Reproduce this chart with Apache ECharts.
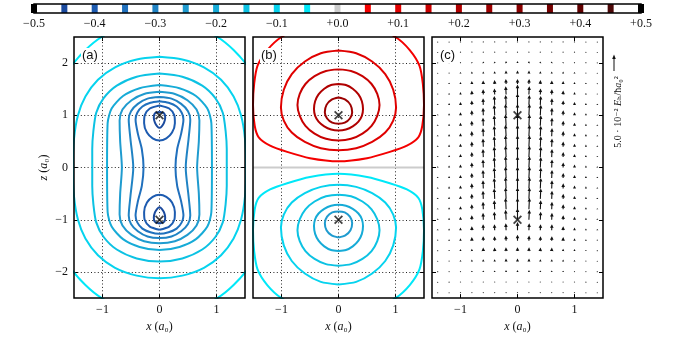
<!DOCTYPE html>
<html>
<head>
<meta charset="utf-8">
<script src="https://cdn.jsdelivr.net/npm/echarts@6/dist/echarts.min.js"></script>
<style>
  html, body { margin: 0; padding: 0; background: #fff; }
  #main { width: 675px; height: 338px; }
</style>
</head>
<body>
<div id="main"></div>
<script>
// colour levels (colorbar)
var levels = [-0.45, -0.40, -0.35, -0.30, -0.25, -0.20, -0.15, -0.10, -0.05, 0.00,
              0.05, 0.10, 0.15, 0.20, 0.25, 0.30, 0.35, 0.40, 0.45];
var levelColors = ['#1b4a9e', '#1d5bb0', '#2070bd', '#2083c4', '#1f9bcf', '#16abd7', '#0cc2e3', '#06d3ee', '#00e8f8', '#cccccc',
                   '#f40000', '#e00000', '#c80000', '#b00000', '#9c0000', '#880000', '#740000', '#600000', '#4c0808'];

var xTicks = [-1, 0, 1];
var zTicks = [-2, -1, 0, 1, 2];
var nuclei = [[0, 1], [0, -1]];

// panel (a): one quarter (x>=0, z>=0) of each closed contour, from the top to the side
var contourA_levels = [-0.05, -0.10, -0.15, -0.20, -0.25, -0.30, -0.35];
var contourA_quarters = [
  [[0, 2.85], [0.5, 2.77], [1.0, 2.51], [1.3, 2.25], [1.6, 1.87], [1.8, 1.51], [2.0, 0.94], [2.12, 0]],
  [[0, 2.12], [0.4, 2.07], [0.78, 1.92], [1.08, 1.68], [1.3, 1.36], [1.43, 1.0], [1.5, 0.55], [1.52, 0]],
  [[0, 1.80], [0.4, 1.74], [0.75, 1.57], [0.98, 1.33], [1.11, 1.05], [1.16, 0.7], [1.18, 0.35], [1.18, 0]],
  [[0, 1.58], [0.35, 1.52], [0.64, 1.37], [0.84, 1.13], [0.91, 0.85], [0.92, 0]],
  [[0, 1.45], [0.27, 1.41], [0.49, 1.29], [0.65, 1.11], [0.70, 0.9], [0.69, 0.5], [0.66, 0]],
  [[0, 1.35], [0.21, 1.32], [0.38, 1.22], [0.50, 1.08], [0.54, 0.92], [0.51, 0.55], [0.46, 0]],
  [[0, 1.27], [0.16, 1.24], [0.30, 1.17], [0.39, 1.05], [0.42, 0.92], [0.38, 0.65], [0.31, 0.35], [0.28, 0]]
];
// panel (a): loops round the upper nucleus, right half from top to bottom
var contourA_loopLevels = [-0.40, -0.45];
var contourA_loops = [
  [[0, 1.19], [0.17, 1.13], [0.26, 1.0], [0.27, 0.85], [0.22, 0.67], [0.12, 0.56], [0, 0.52]],
  [[0, 1.07], [0.08, 1.04], [0.1, 0.96], [0.08, 0.86], [0.04, 0.79], [0, 0.76]]
];

// panel (b): positive contours round the upper nucleus, right half from top to bottom
var contourB_levels = [0.05, 0.10, 0.15, 0.20, 0.25];
var contourB_halves = [
  [[0, 2.78], [0.6, 2.7], [1.0, 2.5], [1.25, 2.25], [1.42, 1.95], [1.48, 1.6], [1.5, 1.2], [1.47, 0.8], [1.4, 0.58], [1.2, 0.42], [0.9, 0.3], [0.5, 0.18], [0, 0.12]],
  [[0, 2.24], [0.31, 2.19], [0.59, 2.03], [0.82, 1.79], [0.96, 1.49], [1.01, 1.15], [0.96, 0.9], [0.82, 0.67], [0.59, 0.49], [0.31, 0.37], [0, 0.33]],
  [[0, 1.88], [0.22, 1.85], [0.42, 1.75], [0.58, 1.6], [0.68, 1.41], [0.72, 1.2], [0.68, 0.99], [0.58, 0.8], [0.42, 0.65], [0.22, 0.55], [0, 0.52]],
  [[0, 1.60], [0.13, 1.58], [0.25, 1.51], [0.35, 1.4], [0.41, 1.27], [0.43, 1.12], [0.41, 0.99], [0.35, 0.88], [0.25, 0.79], [0.13, 0.73], [0, 0.71]],
  [[0, 1.34], [0.12, 1.3], [0.21, 1.2], [0.24, 1.06], [0.2, 0.94], [0.11, 0.86], [0, 0.84]]
];
var zeroContour = [[-1.5, 0], [1.5, 0]];

// panel (c): field arrows, magnitude in 1e-2 Eh/(hbar a0^2), columns x = 0..1.4, rows z = 2.4..-2.4
var quiverX = [0, 0.2, 0.4, 0.6, 0.8, 1.0, 1.2, 1.4];
var quiverZ = [2.4, 2.2, 2.0, 1.8, 1.6, 1.4, 1.2, 1.0, 0.8, 0.6, 0.4, 0.2, 0, -0.2, -0.4, -0.6, -0.8, -1.0, -1.2, -1.4, -1.6, -1.8, -2.0, -2.2, -2.4];
var quiverMag = [
  [0.2, 0.3, 0.7, 1.0, 1.7, 3.3, 3.8, 3.8, 3.8, 3.8, 3.8, 3.8, 3.8, 3.8, 3.8, 3.8, 3.8, 3.8, 2.7, 2.0, 1.3, 1.0, 0.7, 0.3, 0.2],
  [0.2, 0.3, 0.7, 1.0, 1.7, 2.7, 3.3, 3.8, 3.8, 3.8, 3.8, 3.8, 3.8, 3.8, 3.8, 3.8, 3.8, 3.3, 2.3, 1.7, 1.3, 1.0, 0.7, 0.3, 0.2],
  [0.2, 0.3, 0.5, 0.8, 1.3, 2.0, 3.0, 3.5, 3.5, 3.5, 3.5, 3.5, 3.5, 3.5, 3.5, 3.5, 3.0, 2.7, 2.0, 1.5, 1.2, 0.8, 0.5, 0.3, 0.2],
  [0.2, 0.3, 0.5, 0.7, 1.2, 1.7, 2.2, 2.5, 2.7, 2.7, 2.7, 2.7, 2.7, 2.7, 2.7, 2.7, 2.5, 2.3, 2.0, 1.5, 1.2, 0.8, 0.5, 0.3, 0.2],
  [0.2, 0.3, 0.4, 0.7, 1.0, 1.3, 1.5, 1.7, 1.7, 1.7, 1.7, 1.7, 1.7, 1.7, 1.7, 1.7, 1.7, 1.5, 1.3, 1.2, 0.8, 0.7, 0.4, 0.3, 0.2],
  [0.2, 0.3, 0.3, 0.5, 0.7, 0.8, 1.0, 1.0, 1.0, 1.0, 1.0, 1.0, 1.0, 1.0, 1.0, 1.0, 1.0, 1.0, 0.9, 0.8, 0.7, 0.5, 0.3, 0.3, 0.2],
  [0.1, 0.2, 0.3, 0.3, 0.4, 0.5, 0.6, 0.7, 0.7, 0.7, 0.7, 0.7, 0.7, 0.7, 0.7, 0.7, 0.7, 0.7, 0.6, 0.5, 0.4, 0.3, 0.3, 0.2, 0.1],
  [0.1, 0.1, 0.2, 0.2, 0.3, 0.3, 0.4, 0.4, 0.4, 0.4, 0.4, 0.4, 0.4, 0.4, 0.4, 0.4, 0.4, 0.4, 0.4, 0.3, 0.3, 0.2, 0.2, 0.1, 0.1]
];
// outward lean of the arrows per column (x component / z component)
var quiverTilt = [0, 0.05, 0.05, 0.04, 0.03, 0.02, 0.02, 0.01];
var QUIVER_PX = 3; // pixels per 1e-2 unit (key arrow 5.0e-2 = 15px)

var SERIF = "'Liberation Serif', 'DejaVu Serif', serif";

function colorOf(l) {
  for (var i = 0; i < levels.length; i++) {
    if (Math.abs(levels[i] - l) < 1e-9) return levelColors[i];
  }
  return '#000';
}

function closeQuarter(q) {
  var pts = [];
  q.forEach(function (p) { pts.push([p[0], p[1]]); });
  q.slice(0, -1).reverse().forEach(function (p) { pts.push([p[0], -p[1]]); });
  q.slice(1).forEach(function (p) { pts.push([-p[0], -p[1]]); });
  q.slice(0, -1).reverse().forEach(function (p) { pts.push([-p[0], p[1]]); });
  return pts;
}
function closeHalf(h, zs) {
  var pts = [];
  h.forEach(function (p) { pts.push([p[0], zs * p[1]]); });
  h.slice(0, -1).reverse().forEach(function (p) { pts.push([-p[0], zs * p[1]]); });
  return pts;
}
function tickFmt(v) {
  return v < 0 ? '\u2212' + Math.abs(v) : String(v);
}

var chart = echarts.init(document.getElementById('main'), null, { renderer: 'canvas' });

var panels = [
  { left: 74, labels: true, grid: true },
  { left: 253, labels: false, grid: true },
  { left: 432, labels: false, grid: false }
];
var grids = [{ left: 34, top: 4, width: 607, height: 9, show: true, borderColor: '#000', borderWidth: 1.5, z: 5 }];
var xAxes = [{
  gridIndex: 0, type: 'value', min: -0.5, max: 0.5, interval: 0.1,
  axisLine: { show: false, onZero: false }, splitLine: { show: false },
  axisTick: { inside: true, length: 3, lineStyle: { color: '#000' } },
  axisLabel: {
    margin: 5, fontFamily: SERIF, fontSize: 12, color: '#111',
    formatter: function (v) { var r = Math.round(v * 10) / 10; return (r < 0 ? '\u2212' : '+') + Math.abs(r).toFixed(1); }
  }
}];
var yAxes = [{ gridIndex: 0, type: 'value', min: 0, max: 1, show: false }];

var xName = '{i|x} ({i|a}\u2080)';
var nameRich = { i: { fontStyle: 'italic', fontFamily: SERIF, fontSize: 12, color: '#111' } };

panels.forEach(function (p, k) {
  var gi = k + 1;
  grids.push({ left: p.left, top: 37, width: 171, height: 264, show: true, borderColor: '#000', borderWidth: 1.5, z: 5 });
  var tick = { inside: true, length: 4, lineStyle: { color: '#000', width: 1 } };
  var noLine = { show: false, onZero: false };
  xAxes.push({
    gridIndex: gi, type: 'value', min: -1.5, max: 1.5, position: 'bottom',
    axisLine: noLine, splitLine: { show: false },
    axisTick: Object.assign({ customValues: xTicks }, tick),
    axisLabel: { customValues: xTicks, formatter: tickFmt, margin: 6, fontFamily: SERIF, fontSize: 12, color: '#111' },
    name: xName, nameLocation: 'middle', nameGap: 22,
    nameTextStyle: { fontFamily: SERIF, fontSize: 12, color: '#111', rich: nameRich }
  });
  xAxes.push({
    gridIndex: gi, type: 'value', min: -1.5, max: 1.5, position: 'top',
    axisLine: noLine, splitLine: { show: false },
    axisTick: Object.assign({ customValues: xTicks }, tick),
    axisLabel: { show: false }
  });
  var yl = {
    gridIndex: gi, type: 'value', min: -2.5, max: 2.5, position: 'left',
    axisLine: noLine, splitLine: { show: false },
    axisTick: Object.assign({ customValues: zTicks }, tick),
    axisLabel: { show: p.labels, customValues: zTicks, formatter: tickFmt, margin: 6, fontFamily: SERIF, fontSize: 12, color: '#111' }
  };
  if (p.labels) {
    yl.name = '{i|z} ({i|a}\u2080)';
    yl.nameLocation = 'middle';
    yl.nameGap = 24;
    yl.nameRotate = 90;
    yl.nameTextStyle = { fontFamily: SERIF, fontSize: 12, color: '#111', rich: nameRich };
  }
  yAxes.push(yl);
  yAxes.push({
    gridIndex: gi, type: 'value', min: -2.5, max: 2.5, position: 'right',
    axisLine: noLine, splitLine: { show: false },
    axisTick: Object.assign({ customValues: zTicks }, tick),
    axisLabel: { show: false }
  });
});

var series = [];

// colorbar
var cbarData = levels.map(function (l, i) {
  return { value: [l, 1], itemStyle: { color: levelColors[i] } };
});
cbarData.push({ value: [-0.5, 1], itemStyle: { color: '#000' } });
cbarData.push({ value: [0.5, 1], itemStyle: { color: '#000' } });
series.push({
  type: 'bar', xAxisIndex: 0, yAxisIndex: 0, barWidth: 6, data: cbarData,
  clip: true, silent: true, animation: false
});

function contourSeries(axisIdx, pts, color) {
  return {
    type: 'line', xAxisIndex: axisIdx, yAxisIndex: axisIdx, data: pts,
    showSymbol: false, smooth: 0.25, clip: true, silent: true, animation: false, z: 3,
    lineStyle: { color: color, width: 2 }
  };
}

// grid lines (dotted) for panels a and b, plus nuclei markers for all panels
[1, 2, 3].forEach(function (gi, k) {
  var ml = [];
  if (panels[k].grid) {
    xTicks.forEach(function (v) { ml.push({ xAxis: v }); });
    zTicks.forEach(function (v) { ml.push({ yAxis: v }); });
  }
  series.push({
    type: 'scatter', xAxisIndex: gi * 2 - 1, yAxisIndex: gi * 2 - 1, data: nuclei,
    symbol: 'path://M0,1.4L1.4,0L5,3.6L8.6,0L10,1.4L6.4,5L10,8.6L8.6,10L5,6.4L1.4,10L0,8.6L3.6,5Z',
    symbolSize: 9, itemStyle: { color: '#111' }, z: 6, silent: true, animation: false,
    markLine: {
      silent: true, symbol: 'none', label: { show: false }, animation: false, z: 1,
      lineStyle: { color: '#222', width: 1, type: [1, 2.4] },
      data: ml
    }
  });
});

// panel (a)
contourA_levels.forEach(function (l, i) {
  series.push(contourSeries(1, closeQuarter(contourA_quarters[i]), colorOf(l)));
});
contourA_loopLevels.forEach(function (l, i) {
  series.push(contourSeries(1, closeHalf(contourA_loops[i], 1), colorOf(l)));
  series.push(contourSeries(1, closeHalf(contourA_loops[i], -1), colorOf(l)));
});

// panel (b)
series.push(Object.assign(contourSeries(3, zeroContour, colorOf(0)), { smooth: false }));
contourB_levels.forEach(function (l, i) {
  series.push(contourSeries(3, closeHalf(contourB_halves[i], 1), colorOf(l)));
  series.push(contourSeries(3, closeHalf(contourB_halves[i], -1), colorOf(-l)));
});

// panel (c): arrows
var quiverData = [];
quiverX.forEach(function (x, ci) {
  var signs = x === 0 ? [0] : [1, -1];
  signs.forEach(function (s) {
    quiverZ.forEach(function (z, ri) {
      var v = quiverMag[ci][ri];
      quiverData.push([s === 0 ? 0 : s * x, z, s * quiverTilt[ci] * v, v]);
    });
  });
});
series.push({
  type: 'custom', xAxisIndex: 5, yAxisIndex: 5, data: quiverData, silent: true, animation: false, z: 4,
  renderItem: function (params, api) {
    var p = api.coord([api.value(0), api.value(1)]);
    var u = api.value(2) * QUIVER_PX, v = api.value(3) * QUIVER_PX;
    var L = Math.sqrt(u * u + v * v);
    if (L < 1.2) {
      return { type: 'circle', shape: { cx: p[0], cy: p[1] - L / 2, r: 0.6 }, style: { fill: '#333' } };
    }
    var dx = u / L, dy = -v / L, nx = -dy, ny = dx;
    var hl = Math.min(3.6, L), hw = Math.max(1.0, hl * 0.5), sw = 0.55;
    var bx = p[0] + dx * (L - hl), by = p[1] + dy * (L - hl);
    var pts = [
      [p[0] + nx * sw, p[1] + ny * sw],
      [bx + nx * sw, by + ny * sw],
      [bx + nx * hw, by + ny * hw],
      [p[0] + dx * L, p[1] + dy * L],
      [bx - nx * hw, by - ny * hw],
      [bx - nx * sw, by - ny * sw],
      [p[0] - nx * sw, p[1] - ny * sw]
    ];
    return { type: 'polygon', shape: { points: pts }, style: { fill: '#111' } };
  }
});

var labelStyle = { fontFamily: "'Liberation Sans', 'DejaVu Sans', sans-serif", fontSize: 13, fill: '#111', backgroundColor: '#fff', padding: [1, 1] };
var option = {
  backgroundColor: '#fff',
  animation: false,
  grid: grids,
  xAxis: xAxes,
  yAxis: yAxes,
  series: series,
  graphic: [
    { type: 'text', left: 81, top: 48, z: 100, style: Object.assign({ text: '(a)' }, labelStyle) },
    { type: 'text', left: 260, top: 48, z: 100, style: Object.assign({ text: '(b)' }, labelStyle) },
    { type: 'text', left: 439, top: 48, z: 100, style: Object.assign({ text: '(c)' }, labelStyle) },
    // quiver key
    { type: 'line', z: 100, shape: { x1: 614, y1: 71, x2: 614, y2: 58 }, style: { stroke: '#111', lineWidth: 1 } },
    { type: 'polygon', z: 100, shape: { points: [[612.2, 59], [614, 54.5], [615.8, 59]] }, style: { fill: '#111' } },
    {
      type: 'text', z: 100, x: 618, y: 112, rotation: Math.PI / 2,
      style: {
        text: '5.0 \u00b7 10\u207b\u00b2 {i|E}\u2095/\u0127{i|a}\u2080\u00b2',
        fontFamily: SERIF, fontSize: 10, fill: '#111', align: 'center', verticalAlign: 'middle',
        rich: { i: { fontStyle: 'italic', fontFamily: SERIF, fontSize: 10, fill: '#111' } }
      }
    }
  ]
};
chart.setOption(option);
</script>
</body>
</html>
